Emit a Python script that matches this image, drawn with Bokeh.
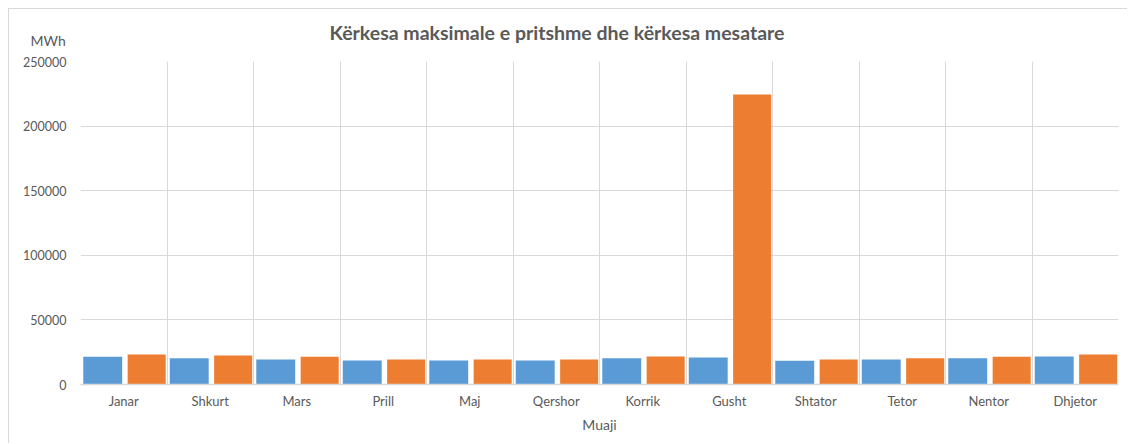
from bokeh.plotting import figure
from bokeh.models import (ColumnDataSource, FactorRange, Range1d, FixedTicker,
                          Title, BasicTickFormatter)
from bokeh.transform import dodge
from bokeh.embed import file_html
from bokeh.resources import INLINE

months = ["Janar", "Shkurt", "Mars", "Prill", "Maj", "Qershor",
          "Korrik", "Gusht", "Shtator", "Tetor", "Nentor", "Dhjetor"]
mesatare = [21500, 20400, 19400, 18600, 18600, 18600,
            20400, 20900, 18300, 19400, 20400, 21700]
maksimale = [23200, 22400, 21400, 19400, 19400, 19400,
             21700, 224500, 19400, 20400, 21400, 23200]
y_ticks = [0, 50000, 100000, 150000, 200000, 250000]

title_text = "Kërkesa maksimale e pritshme dhe kërkesa mesatare"
unit_text = "MWh"
x_title = "Muaji"

FONT = "Lato"
GREY = "#595959"
GRID = "#d9d9d9"

source = ColumnDataSource(data=dict(month=months, mes=mesatare, mak=maksimale))

p = figure(width=1119, height=435, output_backend="svg", toolbar_location=None,
           x_range=FactorRange(factors=months, range_padding=0),
           y_range=Range1d(0, 250000),
           min_border_left=71, min_border_right=10,
           min_border_top=52, min_border_bottom=60)
p.styles = {"margin-top": "8px", "margin-left": "8px",
            "border-top": "1px solid #d9d9d9", "border-left": "1px solid #d9d9d9"}

p.vbar(x=dodge("month", -0.243, range=p.x_range), top="mes", width=0.45,
       source=source, fill_color="#5B9BD5", line_color=None)
p.vbar(x=dodge("month", 0.265, range=p.x_range), top="mak", width=0.44,
       source=source, fill_color="#ED7D31", line_color=None)

p.outline_line_color = None
p.background_fill_color = "white"
p.border_fill_color = "white"

unit_title = Title(text=unit_text, align="left", offset=-50, standoff=25,
                   text_font=FONT, text_font_size="14px",
                   text_font_style="normal", text_color=GREY)
main_title = Title(text=title_text, align="left", offset=249, standoff=-52,
                   text_font=FONT, text_font_size="19.5px",
                   text_font_style="bold", text_color=GREY)
p.add_layout(unit_title, "above")
p.add_layout(main_title, "above")

p.yaxis.ticker = FixedTicker(ticks=y_ticks)
p.yaxis.formatter = BasicTickFormatter(use_scientific=False)
p.yaxis.axis_line_color = None
p.yaxis.major_tick_line_color = None
p.yaxis.minor_tick_line_color = None
p.yaxis.major_label_standoff = 8
p.yaxis.major_label_text_font = FONT
p.yaxis.major_label_text_font_size = "12.5px"
p.yaxis.major_label_text_color = GREY

p.xaxis.axis_line_color = GRID
p.xaxis.axis_line_width = 1.5
p.xaxis.major_tick_line_color = None
p.xaxis.minor_tick_line_color = None
p.xaxis.major_label_standoff = 2
p.xaxis.major_label_text_font = FONT
p.xaxis.major_label_text_font_size = "13px"
p.xaxis.major_label_text_color = GREY
p.xaxis.axis_label = x_title
p.xaxis.axis_label_standoff = 4
p.xaxis.axis_label_text_font = FONT
p.xaxis.axis_label_text_font_size = "14px"
p.xaxis.axis_label_text_font_style = "normal"
p.xaxis.axis_label_text_color = GREY

p.ygrid.grid_line_color = GRID
p.xgrid.grid_line_color = GRID
p.xgrid.ticker = FixedTicker(ticks=list(range(len(months) + 1)))

open("out.html", "w").write(file_html(p, INLINE))
